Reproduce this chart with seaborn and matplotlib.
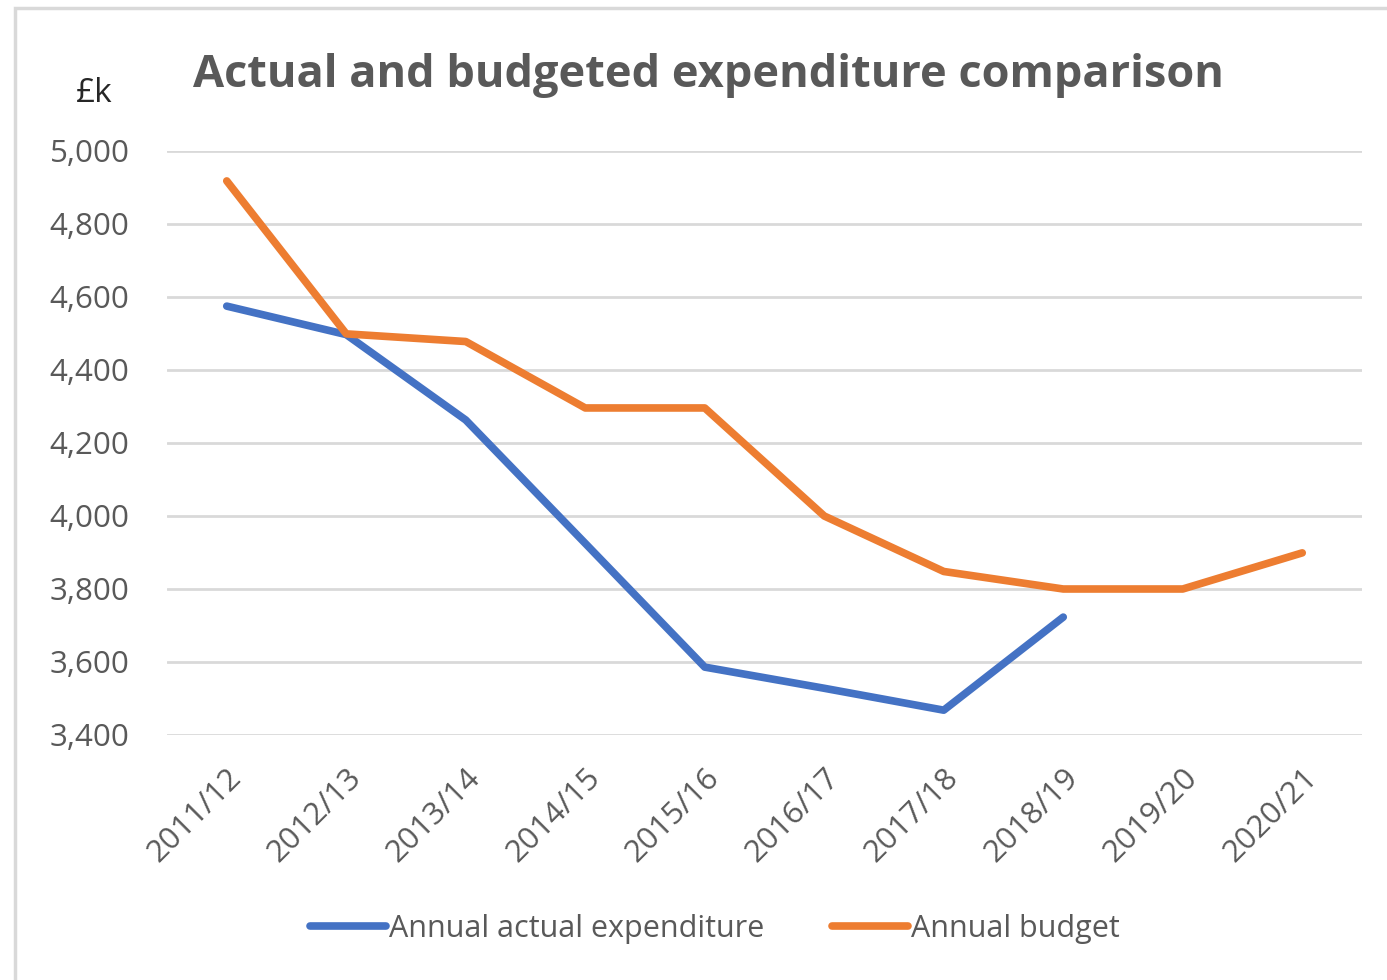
import matplotlib
matplotlib.use("Agg")
import matplotlib.pyplot as plt
import matplotlib.patches as mpatches
import numpy as np
import pandas as pd
import seaborn as sns

years = ['2011/12', '2012/13', '2013/14', '2014/15', '2015/16',
         '2016/17', '2017/18', '2018/19', '2019/20', '2020/21']
actual = [4575, 4497, 4263, 3925, 3586, 3528, 3468, 3723, np.nan, np.nan]
budget = [4918, 4499, 4478, 4296, 4296, 4000, 3848, 3800, 3800, 3899]

series_names = ['Annual actual expenditure', 'Annual budget']
colors = ['#4472C4', '#ED7D31']
grey = '#595959'

df = pd.DataFrame({
    'year': years * 2,
    'value': actual + budget,
    'series': [series_names[0]] * len(years) + [series_names[1]] * len(years),
})
df['x'] = list(range(len(years))) * 2
df = df.dropna()

sns.set_style("white")
plt.rcParams['font.family'] = ['Open Sans', 'DejaVu Sans']

fig = plt.figure(figsize=(13.87, 9.8), dpi=100)
ax = fig.add_axes([167 / 1387, 1 - 735 / 980, (1362 - 167) / 1387, (735 - 151) / 980])

# outer chart border
fig.patches.append(mpatches.Rectangle((15 / 1387, -0.05), 1.05, 1 - 8 / 980 + 0.05,
                                      transform=fig.transFigure, fill=False,
                                      edgecolor='#d9d9d9', linewidth=2.5))

sns.lineplot(data=df, x='x', y='value', hue='series', hue_order=series_names,
             palette=colors, linewidth=5.5, ax=ax, legend=False,
             solid_capstyle='round', solid_joinstyle='round')

ax.set_xlim(-0.5, len(years) - 0.5)
ax.set_ylim(3400, 5000)
ax.set_yticks(range(3400, 5001, 200))
ax.set_yticklabels([f'{v:,}' for v in range(3400, 5001, 200)], fontsize=22.5, color=grey)
ax.set_xticks(range(len(years)))
ax.set_xticklabels(years, rotation=45, ha='right', rotation_mode='anchor',
                   fontsize=22.5, color=grey)
ax.tick_params(axis='y', length=0, pad=27)
ax.tick_params(axis='x', length=0, pad=20)
ax.set_xlabel('')
ax.set_ylabel('')
ax.grid(axis='y', color='#d9d9d9', linewidth=2)
ax.set_axisbelow(True)
for line in ax.lines:
    line.set_clip_on(False)
for s in ax.spines.values():
    s.set_visible(False)

fig.text(708 / 1387, 1 - 75 / 980, 'Actual and budgeted expenditure comparison',
         ha='center', va='center', fontsize=32.5, fontweight='bold', color=grey)
fig.text(94 / 1387, 1 - 93 / 980, '£k', ha='center', va='center', fontsize=24, color='#262626')

handles = [plt.Line2D([], [], color=c, linewidth=5.5, solid_capstyle='round') for c in colors]
fig.legend(handles, series_names, loc='center', bbox_to_anchor=(715 / 1387, 1 - 929 / 980),
           ncol=2, frameon=False, fontsize=22, labelcolor=grey, handlelength=2.5,
           handletextpad=0.1, columnspacing=2.2)

fig.savefig('out.png', dpi=100)
